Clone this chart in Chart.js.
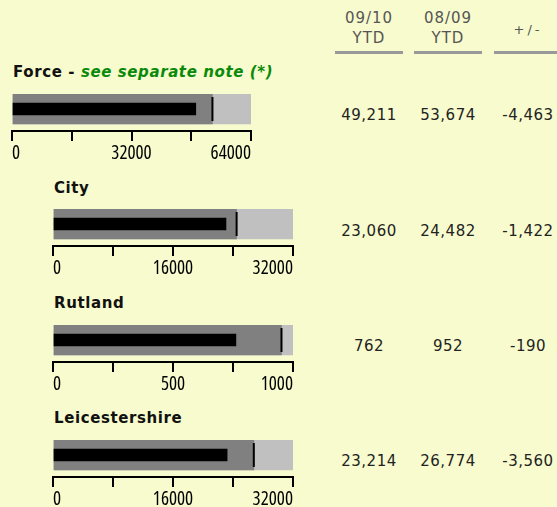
<!DOCTYPE html>
<html>
<head>
<meta charset="utf-8">
<script src="https://cdn.jsdelivr.net/npm/chart.js@4.4.1/dist/chart.umd.min.js"></script>
<style>
  body { margin: 0; width: 557px; height: 507px; overflow: hidden; position: relative;
         background: #f7fbcd; font-family: 'DejaVu Sans', Verdana, sans-serif; }
  .title { position: absolute; font-weight: bold; font-size: 15px; line-height: 18px; color: #111;
           letter-spacing: 0.6px; white-space: nowrap; }
  .title i { color: #0a8a0a; }
  .hd { position: absolute; top: 8px; height: 43px; width: 68px; text-align: center; color: #555;
        font-size: 15px; line-height: 20px; letter-spacing: 1px; border-bottom: 3px solid #999; }
  .val { position: absolute; width: 68px; text-align: center; font-size: 15px; line-height: 18px;
         color: #222; letter-spacing: 0.5px; }
  canvas { position: absolute; left: 0; }
</style>
</head>
<body>
<div class="hd" style="left:335px">09/10<br>YTD</div>
<div class="hd" style="left:414px">08/09<br>YTD</div>
<div class="hd" style="left:494px;line-height:43px;font-size:13px;letter-spacing:3px">+/-</div>

<script>
// data
const categories = ['Force', 'City', 'Rutland', 'Leicestershire'];
const ytdNow = [49211, 23060, 762, 23214];      // 09/10 YTD (black bar)
const ytdPrev = [53674, 24482, 952, 26774];     // 08/09 YTD (target + dark band)
const diff = [-4463, -1422, -190, -3560];
const axisMax = [64000, 32000, 1000, 32000];
const tickStep = [16000, 8000, 250, 8000];

// layout per bullet (page pixels)
const layout = [
  { titleTop: 63, barTop: 94, left: 12, right: 251, valTop: 106 },
  { titleTop: 179, barTop: 209, left: 53, right: 293, valTop: 222 },
  { titleTop: 294, barTop: 325, left: 53, right: 293, valTop: 337 },
  { titleTop: 409, barTop: 440, left: 53, right: 293, valTop: 452 }
];

const fmt = n => n.toLocaleString('en-US');
// weight slot carries the css font-stretch keyword (Open Sans has a width axis)
const tickFont = { family: "'Open Sans', sans-serif", size: 19, weight: 'condensed' };

categories.forEach((name, i) => {
  const L = layout[i];

  const t = document.createElement('div');
  t.className = 'title';
  t.style.left = (i === 0 ? 13 : 54) + 'px';
  t.style.top = L.titleTop + 'px';
  t.innerHTML = i === 0 ? name + ' - <i>see separate note (*)</i>' : name;
  document.body.appendChild(t);

  [ytdNow[i], ytdPrev[i], diff[i]].forEach((v, c) => {
    const d = document.createElement('div');
    d.className = 'val';
    d.style.left = [335, 414, 494][c] + 'px';
    d.style.top = L.valTop + 'px';
    d.textContent = fmt(v);
    document.body.appendChild(d);
  });

  const cv = document.createElement('canvas');
  cv.width = 300; cv.height = 70;
  cv.style.top = L.barTop + 'px';
  document.body.appendChild(cv);

  const mid = 15; // bar centre, in px units of the hidden y scale
  new Chart(cv.getContext('2d'), {
    type: 'bar',
    data: {
      datasets: [
        { type: 'line', data: [{ x: ytdPrev[i], y: mid }], indexAxis: 'y', showLine: false,
          pointStyle: 'line', rotation: 90, radius: 12, borderColor: '#000', borderWidth: 2, order: 1 },
        { data: [{ x: ytdNow[i], y: mid }], backgroundColor: '#000', barThickness: 12, grouped: false, order: 2 },
        { data: [{ x: ytdPrev[i], y: mid }], backgroundColor: '#808080', barThickness: 30, grouped: false, order: 3 },
        { data: [{ x: axisMax[i], y: mid }], backgroundColor: '#c0c0c0', barThickness: 30, grouped: false, order: 4 }
      ]
    },
    options: {
      indexAxis: 'y',
      responsive: false,
      animation: false,
      events: [],
      layout: { autoPadding: false, padding: { left: L.left, right: 300 - L.right, top: 0, bottom: 0 } },
      plugins: { legend: { display: false }, tooltip: { enabled: false } },
      scales: {
        y: { type: 'linear', min: 0, max: 37, reverse: true, display: false, offset: false, grid: { offset: false } },
        x: {
          type: 'linear', position: 'bottom', min: 0, max: axisMax[i],
          afterFit: s => { s.height = 33; },
          border: { display: true, color: '#000', width: 2 },
          grid: { drawOnChartArea: false, drawTicks: true, tickLength: 10, color: '#000', lineWidth: 2 },
          ticks: {
            stepSize: tickStep[i], autoSkip: false, maxRotation: 0, align: 'inner',
            padding: 1, color: '#000', font: tickFont,
            callback: v => (v % (tickStep[i] * 2) === 0 ? String(v) : '')
          }
        }
      }
    }
  });
});
</script>
</body>
</html>
